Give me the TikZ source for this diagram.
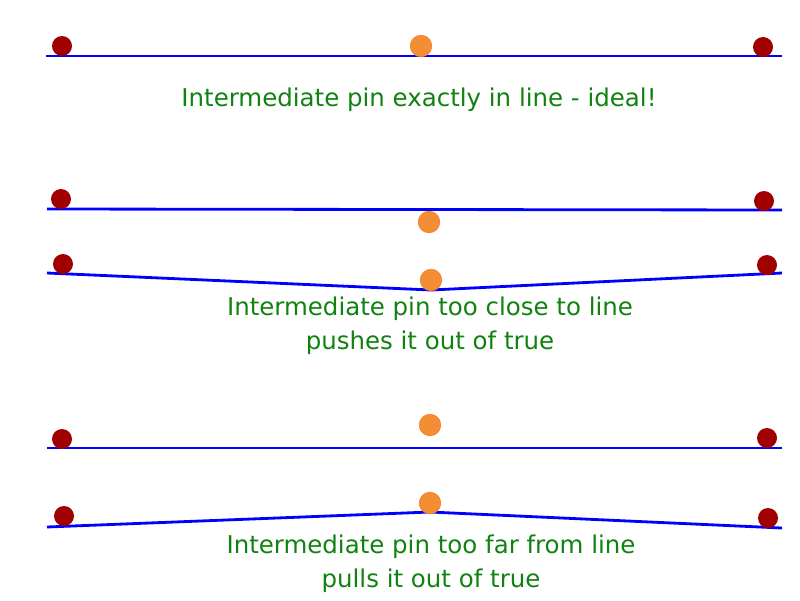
\documentclass[tikz,border=0pt]{standalone}
\usepackage{fontspec}
\setmainfont{DejaVu Sans}
\definecolor{pinred}{RGB}{160,0,0}
\definecolor{pinorange}{RGB}{243,142,52}
\definecolor{textgreen}{RGB}{15,130,15}
\definecolor{lineblue}{RGB}{0,0,255}
\begin{document}
\begin{tikzpicture}[
    x=0.025cm, y=-0.025cm,
    endpin/.style={circle, fill=pinred, minimum size=5mm, inner sep=0pt},
    midpin/.style={circle, fill=pinorange, draw=pinorange!85!red, minimum size=5.4mm, inner sep=0pt},
    wire/.style={draw=lineblue, line width=2pt},
    caption/.style={text=textgreen, font=\fontsize{17.4}{24}\selectfont, align=center}
]
\useasboundingbox (0,0) rectangle (800,600);

% pin exactly in line
\coordinate (a1) at (46,56);
\coordinate (b1) at (782,56);
\draw[wire] (a1) -- (b1);
\node[endpin] (l1) at (62,46) {};
\node[midpin] (m1) at (421,46) {};
\node[endpin] (r1) at (763,47) {};
\node[caption] (t1) at (419,100) {Intermediate pin exactly in line - ideal!};

% pin too close
\coordinate (a2) at (47,209);
\coordinate (b2) at (782,210);
\draw[wire] (a2) -- (b2);
\node[endpin] (l2) at (61,199) {};
\node[midpin] (m2) at (429,222) {};
\node[endpin] (r2) at (764,201) {};

\coordinate (a3) at (47,273);
\coordinate (k3) at (431,290);
\coordinate (b3) at (782,273);
\draw[wire] (a3) -- (k3) -- (b3);
\node[endpin] (l3) at (63,264) {};
\node[midpin] (m3) at (431,280) {};
\node[endpin] (r3) at (767,265) {};
\node[caption] (t2) at (430,326) {Intermediate pin too close to line\\pushes it out of true};

% pin too far
\coordinate (a4) at (47,448);
\coordinate (b4) at (782,448);
\draw[wire] (a4) -- (b4);
\node[endpin] (l4) at (62,439) {};
\node[midpin] (m4) at (430,425) {};
\node[endpin] (r4) at (767,438) {};

\coordinate (a5) at (47,527);
\coordinate (k5) at (430,512);
\coordinate (b5) at (782,528);
\draw[wire] (a5) -- (k5) -- (b5);
\node[endpin] (l5) at (64,516) {};
\node[midpin] (m5) at (430,503) {};
\node[endpin] (r5) at (768,518) {};
\node[caption] (t3) at (431,564) {Intermediate pin too far from line\\pulls it out of true};

\end{tikzpicture}
\end{document}
